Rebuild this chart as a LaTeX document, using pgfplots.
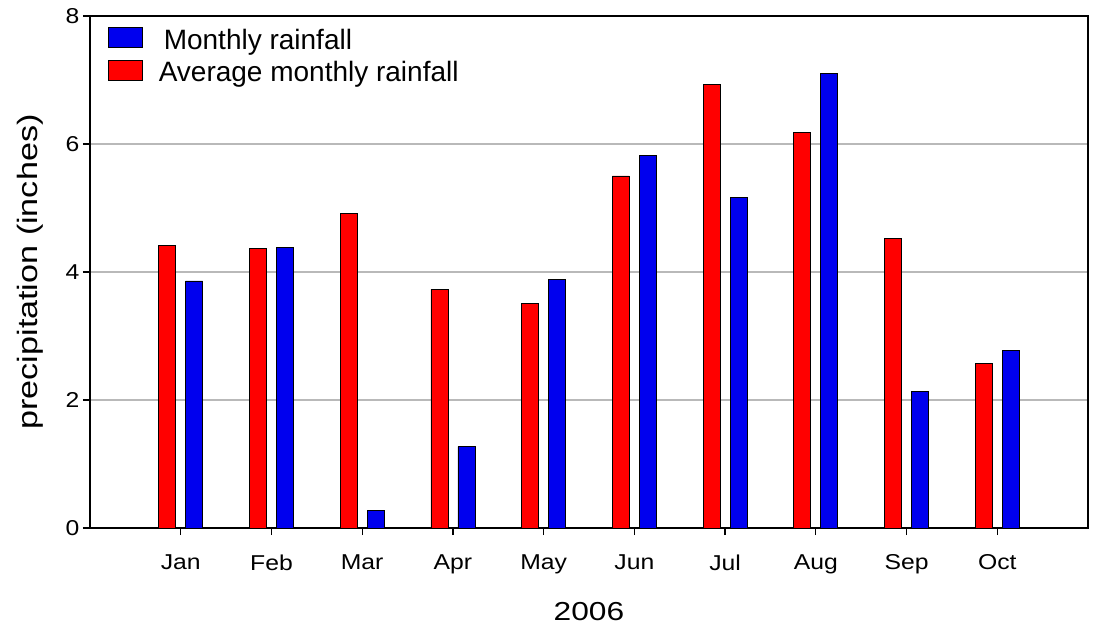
\documentclass[border=0pt]{standalone}
\usepackage{pgfplots}
\pgfplotsset{compat=1.18}
\usepackage{fontspec}
\setmainfont{Liberation Sans}
\newfontfamily\tickfont{Liberation Sans}[FakeStretch=1.15]
\newfontfamily\labelfont{Liberation Sans}[FakeStretch=1.22]
\definecolor{barred}{RGB}{255,0,0}
\definecolor{barblue}{RGB}{0,0,238}
\definecolor{gridgray}{RGB}{185,185,185}
\begin{document}
\begin{tikzpicture}
\useasboundingbox (-90bp,-107bp) rectangle (1004bp,528bp);
\begin{axis}[
  scale only axis, width=998bp, height=512bp,
  xmin=0, xmax=11, ymin=0, ymax=8,
  xtick={1,2,3,4,5,6,7,8,9,10},
  xticklabels={Jan,Feb,Mar,Apr,May,Jun,Jul,Aug,Sep,Oct},
  ytick={0,2,4,6,8},
  xtick pos=left, ytick pos=left,
  minor tick num=0,
  axis line style={line width=1.6bp},
  tick style={black, line width=1.3bp},
  tick align=outside, major tick length=7bp,
  ymajorgrids, grid style={gridgray, line width=1.2bp},
  ticklabel style={font=\tickfont\fontsize{21.5bp}{25bp}\selectfont},
  xticklabel style={yshift=-16bp},
  /pgf/number format/assume math mode=true,
  xlabel={2006}, ylabel={precipitation (inches)},
  xlabel style={font=\labelfont\fontsize{26bp}{30bp}\selectfont, at={(0.5,0)}, anchor=center, yshift=-84bp},
  ylabel style={font=\labelfont\fontsize{28bp}{32bp}\selectfont, at={(0,0.5)}, anchor=center, yshift=60bp},
  ybar, bar width=17bp,
  legend style={at={(axis description cs:0.018,0.979)}, anchor=north west,
    draw=none, fill=none, inner sep=0pt, row sep=12bp,
    font=\fontsize{28bp}{32bp}\selectfont,
    nodes={inner sep=1bp}},
  legend cell align=left,
  reverse legend,
  legend image code/.code={\draw[#1, draw=black, line width=0.6bp] (0bp,-10bp) rectangle (34bp,10bp);},
]
\addplot[fill=barred, draw=black, line width=0.8bp, bar shift=-13.5bp] coordinates {
(1,4.41) (2,4.37) (3,4.91) (4,3.73) (5,3.51) (6,5.50) (7,6.93) (8,6.18) (9,4.52) (10,2.57)};
\addlegendentry{\hspace{15bp}\raisebox{-5bp}{Average monthly rainfall}}
\addplot[fill=barblue, draw=black, line width=0.8bp, bar shift=13.5bp] coordinates {
(1,3.86) (2,4.39) (3,0.28) (4,1.27) (5,3.89) (6,5.82) (7,5.16) (8,7.10) (9,2.14) (10,2.78)};
\addlegendentry{\hspace{20bp}\raisebox{-5bp}{Monthly rainfall}}
\end{axis}
\end{tikzpicture}
\end{document}
